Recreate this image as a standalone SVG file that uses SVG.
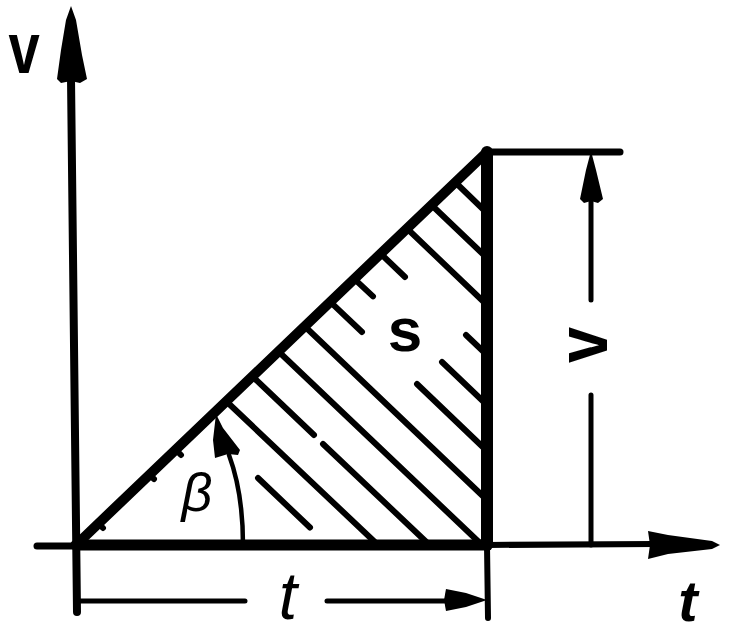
<svg xmlns="http://www.w3.org/2000/svg" width="729" height="635" viewBox="0 0 729 635">
<style>
.ln{stroke:#000;fill:none;stroke-linecap:round;stroke-linejoin:round}
.h{stroke:#000;stroke-width:6;stroke-linecap:round;fill:none}
.lbl{font-family:"Liberation Sans",Arial,sans-serif;fill:#000}
</style>
<rect width="729" height="635" fill="#fff"/>
<g id="hatching">
<path class="h" d="M455,182L487,213M431.5,205L487,258M407,228.5L487,305M380.5,253.5L405,277M466,335L487,355M354,278.6L373,296.4M442,362L487,405M330,301.6L362,332M417,384L487,451M304.4,326L487,500M278,351L482,545M252,376L314,435M323,444L429.5,545M226,401L378,545M258,478L310,527.5M175,449L181,455M149,474.5L154,479M98,523L103,528"/>
</g>
<g id="axes">
<path class="ln" stroke-width="8" d="M71,78L77,612"/>
<polygon points="71,6 76,20 82,55 87,79 80,83 71,81 61,83 57,79 61,50 66,20"/>
<path class="ln" stroke-width="7" d="M37,546L80,546"/>
<path class="ln" stroke-width="6" d="M487,545L655,544"/>
<polygon points="648,531 668,535 712,541 720,545 712,549 668,554 648,559 650,545"/>
</g>
<g id="triangle">
<path class="ln" stroke-width="11" d="M76,545L487,545"/>
<path class="ln" stroke-width="10" d="M76,545L487,152"/>
<path class="ln" stroke-width="12" d="M487,152L487,545"/>
<path class="ln" stroke-width="6" d="M487,545L488,618"/>
<path class="ln" stroke-width="7" d="M487,152L620,152"/>
</g>
<g id="angle-beta">
<path class="ln" stroke-width="4.5" d="M243,545C243,510 239,482 229,455"/>
<polygon points="216,414 223,428 240,450 238,455 228,454 215,458 213,440"/>
</g>
<g id="dimension-v">
<path class="ln" stroke-width="5" d="M591,198L591,300M591,395L591,545"/>
<polygon points="591,151 596,170 603,199 598,203 591,201 584,203 580,199 586,170"/>
</g>
<g id="dimension-t">
<path class="ln" stroke-width="5" d="M77,601L245,601M327,601L450,601"/>
<polygon points="487,600 466,593 446,589 444,600 446,611 466,607"/>
</g>
<g id="labels">
<text class="lbl" font-size="72" font-weight="bold" text-anchor="middle" transform="translate(24,73) scale(0.78,1)">v</text>
<text class="lbl" font-size="72" font-weight="bold" text-anchor="middle" transform="translate(588,345) rotate(-90) scale(0.9,1)" y="19">v</text>
<text class="lbl" x="405" y="351" font-size="62" font-weight="bold" text-anchor="middle">s</text>
<text class="lbl" x="197" y="511" font-size="54" font-style="italic" text-anchor="middle">β</text>
<text class="lbl" x="288" y="619" font-size="66" font-style="italic" text-anchor="middle">t</text>
<text class="lbl" x="688" y="621" font-size="58" font-weight="bold" font-style="italic" text-anchor="middle">t</text>
</g>
</svg>
